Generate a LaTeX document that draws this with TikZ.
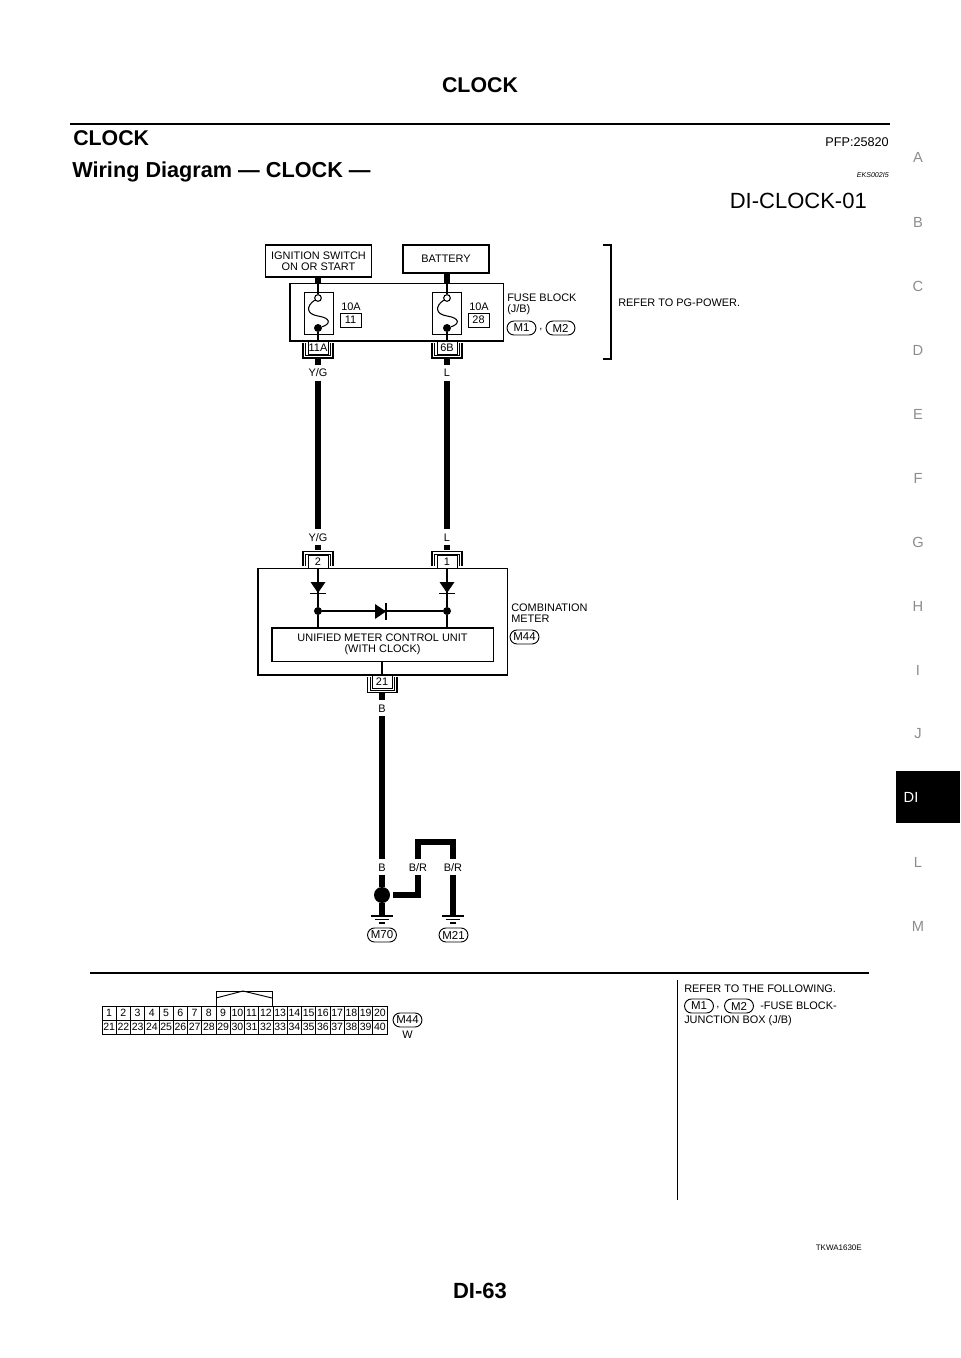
\documentclass[tikz,border=0pt]{standalone}
\usepackage{fontspec}
\setmainfont{Liberation Sans}
\usetikzlibrary{shapes.misc, calc}
\tikzset{
    sized/.style={font=\fontsize{#1}{#1}\selectfont, inner sep=0pt},
    lbl/.style={font=\fontsize{8.2}{8.4}\selectfont, inner sep=0pt, align=left},
    wirelbl/.style={font=\fontsize{8.2}{8.4}\selectfont, inner xsep=0pt, inner ysep=2.6pt, text height=6pt, text depth=0pt},
    unitbox/.style={draw, line width=.8pt, inner sep=0pt, align=center, font=\fontsize{8.2}{8.6}\selectfont},
    pinbox/.style={draw, line width=.7pt, inner sep=0pt, minimum width=15pt, minimum height=9.8pt, font=\fontsize{8.2}{8.4}\selectfont},
    fusebox/.style={draw, line width=.7pt, inner sep=0pt, minimum width=15.7pt, minimum height=10.5pt, font=\fontsize{8.2}{8.4}\selectfont},
    oval/.style={draw, rounded rectangle, line width=.7pt, inner sep=0pt, minimum width=21.7pt, minimum height=10.5pt, font=\fontsize{8.6}{8.8}\selectfont},
    wire/.style={line width=5.2pt},
    thin wire/.style={line width=.8pt},
    outershell/.style={line width=.9pt},
    innershell/.style={line width=.55pt},
    cell/.style={draw, line width=.6pt, inner sep=0pt, minimum width=10.69pt, minimum height=10.5pt, font=\fontsize{7.9}{8}\selectfont},
    side/.style={font=\fontsize{11}{11}\selectfont, text=black!45, inner sep=0pt},
    dot/.style={circle, fill, inner sep=0pt}
}
\begin{document}
\begin{tikzpicture}[x=.75pt, y=-.75pt]
    \useasboundingbox (0,0) rectangle (960,1358);

    \node[sized=16, font=\fontsize{16}{16}\selectfont\bfseries] (pagetitle) at (480,85) {CLOCK};
    \draw[line width=2.2pt] (70,124) -- (890,124);
    \node[sized=16, font=\fontsize{16}{16}\selectfont\bfseries, anchor=base west] (sectitle) at (73,146) {CLOCK};
    \node[sized=9.5, anchor=base east] (pfp) at (889,147) {PFP:25820};
    \node[sized=16, font=\fontsize{16.25}{17}\selectfont\bfseries, anchor=base west] (subtitle) at (72,178) {Wiring Diagram — CLOCK —};
    \node[sized=5.3, font=\fontsize{5.3}{6}\selectfont\itshape, anchor=base east] (eks) at (889,177.5) {EKS002I5};
    \node[sized=16.5, anchor=base east] (cellcode) at (867,209) {DI-CLOCK-01};

    \foreach \ch/\py in {A/157, B/222, C/286, D/350, E/414, F/478, G/542, H/606, I/670, J/734, L/862, M/926}
        \node[side] (tab\ch) at (918,\py) {\ch};
    \fill (896,771) rectangle (960,823);
    \node[side, text=white] (tabDI) at (911,797) {DI};

    \node[unitbox, minimum width=80pt, minimum height=24pt] (ign) at (318.5,261) {IGNITION SWITCH\\ON OR START};
    \node[unitbox, minimum width=64.5pt, minimum height=21pt] (batt) at (446,259) {BATTERY};
    \node[unitbox, minimum width=159.8pt, minimum height=42.8pt] (fuseblock) at (396.5,312.5) {};
    \node[draw, line width=.7pt, inner sep=0pt, minimum width=21.7pt, minimum height=31.5pt] (fusea) at (318.5,313) {};
    \node[draw, line width=.7pt, inner sep=0pt, minimum width=21.7pt, minimum height=31.5pt] (fuseb) at (446.5,313) {};
    \node[circle, draw, thin wire, fill=white, inner sep=0pt, minimum size=5pt] (opena) at (318,298) {};
    \node[circle, draw, thin wire, fill=white, inner sep=0pt, minimum size=5pt] (openb) at (447,298) {};
    \node[dot, minimum size=6pt] (shuta) at (318,328) {};
    \node[dot, minimum size=6pt] (shutb) at (447,328) {};
    \draw[line width=.8pt] (opena) .. controls (306,306) and (306,314) .. (318,316) .. controls (331,318) and (331,324) .. (shuta);
    \draw[line width=.8pt] (openb) .. controls (435,306) and (435,314) .. (447,316) .. controls (460,318) and (460,324) .. (shutb);
    \node[lbl] (ampa) at (351,307) {10A};
    \node[lbl] (ampb) at (479,307) {10A};
    \node[fusebox] (numa) at (350.5,320) {11};
    \node[fusebox] (numb) at (478.5,320) {28};
    \node[pinbox] (p11a) at (318,347.5) {11A};
    \node[pinbox] (p6b) at (447,347.5) {6B};
    \foreach \cx in {318,447} {
        \draw[outershell] (\cx-15,343) -- (\cx-15,358) -- (\cx+15,358) -- (\cx+15,343);
        \draw[innershell] (\cx-12.5,343) -- (\cx-12.5,355.5) -- (\cx+12.5,355.5) -- (\cx+12.5,343);
    }
    \node[lbl, anchor=west] (fbtext) at (507,304.5) {FUSE BLOCK\\(J/B)};
    \node[oval] (fbm1) at (521.5,328) {M1};
    \node[lbl] (fbcomma) at (541,330) {,};
    \node[oval] (fbm2) at (560.5,328) {M2};
    \draw[line width=.8pt] (603,245) -- (611,245) -- (611,359) -- (603,359);
    \node[lbl, anchor=west] (refpower) at (618,303) {REFER TO PG-POWER.};

    \draw[wire] (ign.south -| opena) -- (fuseblock.north -| opena);
    \draw[wire] (batt.south -| openb) -- (fuseblock.north -| openb);
    \draw[thin wire] (fuseblock.north -| opena) -- (opena);
    \draw[thin wire] (fuseblock.north -| openb) -- (openb);
    \draw[thin wire] (shuta) -- (p11a);
    \draw[thin wire] (shutb) -- (p6b);

    \node[wirelbl] (ygup) at (318,373) {Y/G};
    \node[wirelbl] (lup) at (447,373) {L};
    \node[wirelbl] (yglow) at (318,537) {Y/G};
    \node[wirelbl] (llow) at (447,537) {L};
    \draw[wire, shorten <=3.4pt] (p11a) -- (ygup);
    \draw[wire, shorten <=3.4pt] (p6b) -- (lup);
    \draw[wire] (ygup) -- (yglow);
    \draw[wire] (lup) -- (llow);

    \node[unitbox, minimum width=186.8pt, minimum height=80.2pt] (meter) at (382.5,621.5) {};
    \node[pinbox] (p2) at (318,562) {2};
    \node[pinbox] (p1) at (447,562) {1};
    \draw[wire, shorten >=3.7pt] (yglow) -- (p2);
    \draw[wire, shorten >=3.7pt] (llow) -- (p1);
    \foreach \cx in {318,447} {
        \draw[outershell] (\cx-15,566) -- (\cx-15,551.5) -- (\cx+15,551.5) -- (\cx+15,566);
        \draw[innershell] (\cx-12.5,566) -- (\cx-12.5,554) -- (\cx+12.5,554) -- (\cx+12.5,566);
    }
    \node[unitbox, minimum width=165.8pt, minimum height=24.8pt] (unit) at (382.5,644.5) {UNIFIED METER CONTROL UNIT\\(WITH CLOCK)};
    \node[dot, minimum size=6pt] (joina) at (318,611) {};
    \node[dot, minimum size=6pt] (joinb) at (447,611) {};
    \draw[thin wire] (p2) -- (joina);
    \draw[thin wire] (p1) -- (joinb);
    \draw[thin wire] (joina) -- (joinb);
    \draw[thin wire] (joina) -- (unit.north -| joina);
    \draw[thin wire] (joinb) -- (unit.north -| joinb);
    \foreach \dx in {318,447} {
        \fill (\dx-7.5,582) -- (\dx+7.5,582) -- (\dx,593) -- cycle;
        \draw[line width=.9pt] (\dx-8,593.5) -- (\dx+8,593.5);
    }
    \fill (375,604) -- (375,619) -- (386,611.5) -- cycle;
    \draw[line width=.9pt] (386,603) -- (386,620);
    \node[lbl, anchor=west] (cmtext) at (511,613.5) {COMBINATION\\METER};
    \node[oval] (m44a) at (524.5,637) {M44};

    \node[pinbox] (p21) at (382,681.5) {21};
    \draw[thin wire] (unit.south -| p21) -- (meter.south -| p21);
    \draw[outershell] (367.5,677) -- (367.5,692.5) -- (397,692.5) -- (397,677);
    \draw[innershell] (370,677) -- (370,690) -- (394.5,690) -- (394.5,677);
    \node[wirelbl] (bup) at (382,708) {B};
    \node[wirelbl] (blow) at (382,867) {B};
    \node[wirelbl] (brl) at (418,867) {B/R};
    \node[wirelbl] (brr) at (453,867) {B/R};
    \draw[wire, shorten <=3.4pt] (p21) -- (bup);
    \draw[wire] (bup) -- (blow);
    \node[dot, minimum size=12pt] (dotb) at (382,895) {};
    \draw[wire] (blow) -- (dotb);
    \draw[wire, shorten <=2pt] (dotb) -| (brl);
    \coordinate (brtop) at (435,842);
    \draw[wire] (brl) |- (brtop) -| (brr);
    \coordinate (gndb) at (382,916);
    \coordinate (gndr) at (453,916);
    \draw[wire] (dotb) -- (gndb);
    \draw[wire] (brr) -- (gndr);
    \foreach \gnd in {gndb, gndr} {
        \draw[line width=.8pt] ($(\gnd)+(-11,0)$) -- ($(\gnd)+(11,0)$);
        \draw[line width=.8pt] ($(\gnd)+(-7,3.5)$) -- ($(\gnd)+(7,3.5)$);
        \draw[line width=.8pt] ($(\gnd)+(-3,7)$) -- ($(\gnd)+(3,7)$);
    }
    \node[oval] (m70) at (382,935) {M70};
    \node[oval] (m21) at (453.5,935) {M21};

    \draw[line width=1pt] (90,973) -- (869,973);
    \draw[line width=.7pt] (677,980) -- (677,1200);
    \draw[line width=.7pt] (216,1006) -- (216,991) -- (272,991) -- (272,1006);
    \draw[line width=.7pt] (216,998) -- (243,991) -- (272,998);
    \foreach \n [evaluate=\n as \px using 102+14.25*(\n-.5), evaluate=\n as \m using int(\n+20)] in {1,...,20} {
        \node[cell] (top\n) at (\px,1013) {\n};
        \node[cell] (low\m) at (\px,1027) {\m};
    }
    \node[oval] (m44b) at (407.5,1020) {M44};
    \node[wirelbl] (m44w) at (407.5,1034) {W};

    \node[lbl, anchor=west] (reffoll) at (684,988.5) {REFER TO THE FOLLOWING.};
    \node[oval] (keym1) at (699,1006) {M1};
    \node[lbl] (keycomma) at (718,1008) {,};
    \node[oval] (keym2) at (739,1006) {M2};
    \node[lbl, anchor=west] (keyfuse) at (760,1006) {-FUSE BLOCK-};
    \node[lbl, anchor=west] (keyjb) at (684,1021) {JUNCTION BOX (J/B)};

    \node[sized=6, anchor=base east] (tkwa) at (862,1250) {TKWA1630E};
    \node[sized=16.5, font=\fontsize{16.5}{17}\selectfont\bfseries] (pagenum) at (480,1291) {DI-63};
\end{tikzpicture}
\end{document}
